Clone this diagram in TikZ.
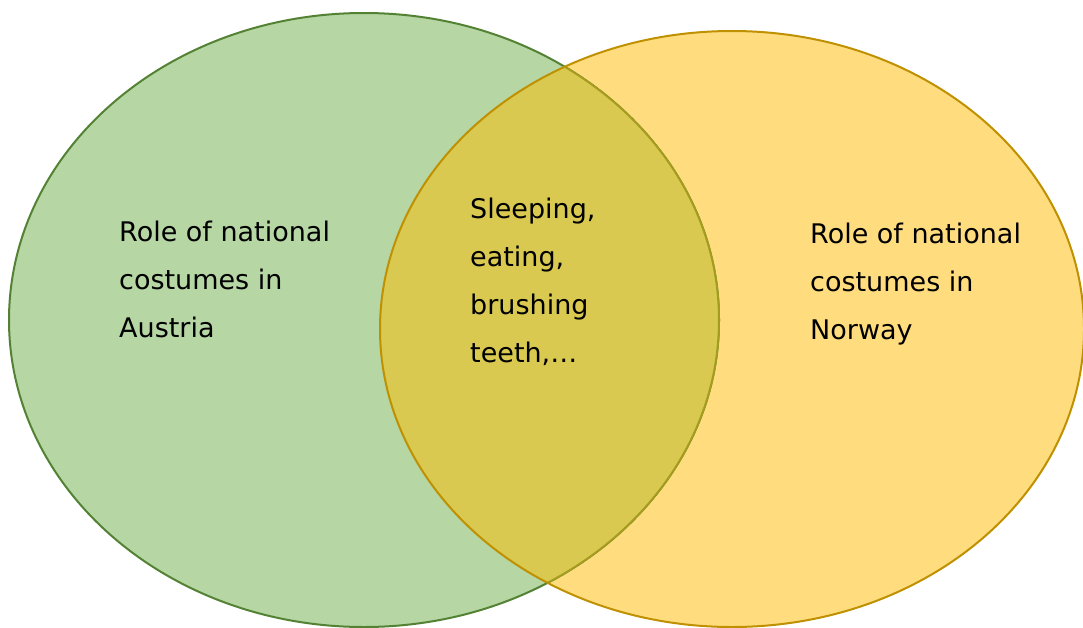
\documentclass[tikz,border=0pt]{standalone}
\usepackage{fontspec}
\setmainfont{DejaVu Sans}
\usetikzlibrary{positioning}
\definecolor{austriafill}{HTML}{B6D6A4}
\definecolor{austrialine}{HTML}{548235}
\definecolor{norwayfill}{HTML}{FFDD7E}
\definecolor{norwayline}{HTML}{BF9000}
\definecolor{bothfill}{HTML}{D9C950}
\definecolor{bothline}{HTML}{A59B1F}

\begin{document}
\begin{tikzpicture}[x=1pt,y=-1pt,font=\fontsize{27}{48}\selectfont]
\tikzset{rim/.style={line width=2pt},
blurb/.style={align=left,anchor=north west,inner sep=0pt,text=black}}
\useasboundingbox (0,0) rectangle (1083,627);
% A: Austria, B: Norway
\coordinate (austria) at (364,320);
\coordinate (norway) at (732,329);
\fill[austriafill] (austria) ellipse (355 and 307);
\fill[norwayfill] (norway) ellipse (352 and 298);
\draw[rim,austrialine] (austria) ellipse (355 and 307);
% overlap
\begin{scope}
\clip (norway) ellipse (352 and 298);
\fill[bothfill] (austria) ellipse (355 and 307);
\draw[rim,bothline] (austria) ellipse (355 and 307);
\end{scope}
\draw[rim,norwayline] (norway) ellipse (352 and 298);
% texts
\node[blurb] (left text) at (119,221) {Role of national\\costumes in\\Austria};
\node[blurb] (mid text) at (470,198) {Sleeping,\\eating,\\brushing\\teeth,…};
\node[blurb] (right text) at (810,223) {Role of national\\costumes in\\Norway};
\end{tikzpicture}
\end{document}
